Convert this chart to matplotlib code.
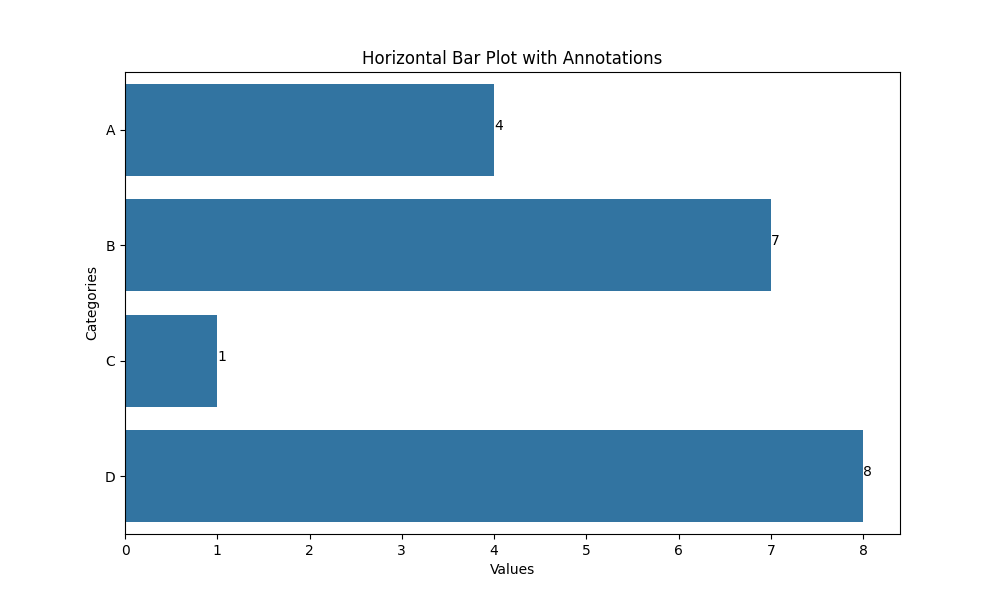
import matplotlib
matplotlib.use("Agg")
import matplotlib.pyplot as plt
import seaborn as sns
import pandas as pd

categories = ['A', 'B', 'C', 'D']
values = [4, 7, 1, 8]

df = pd.DataFrame({'Categories': categories, 'Values': values})

fig, ax = plt.subplots(figsize=(10, 6), dpi=100)
sns.barplot(data=df, x='Values', y='Categories', ax=ax, orient='h')

# annotate each bar with its value at the bar end (baseline at bar centre)
for p in ax.patches:
    w = p.get_width()
    ax.text(w, p.get_y() + p.get_height() / 2, f'{int(w)}')

ax.set_title('Horizontal Bar Plot with Annotations')
ax.set_xlabel('Values')
ax.set_ylabel('Categories')

plt.savefig('out.png')
